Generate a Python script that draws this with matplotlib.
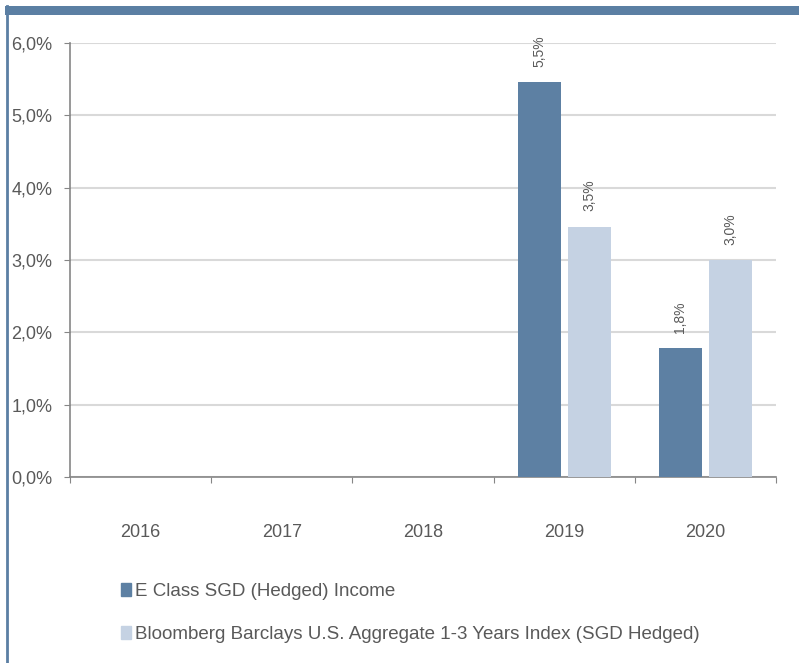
import matplotlib
matplotlib.use("Agg")
import matplotlib.pyplot as plt
import numpy as np
from matplotlib.patches import Rectangle, Patch
from matplotlib.lines import Line2D

years = ["2016", "2017", "2018", "2019", "2020"]
fund = [np.nan, np.nan, np.nan, 5.46, 1.78]
index = [np.nan, np.nan, np.nan, 3.46, 3.0]
fund_labels = ["", "", "", "5,5%", "1,8%"]
index_labels = ["", "", "", "3,5%", "3,0%"]
yticks = [0, 1, 2, 3, 4, 5, 6]
ytick_labels = ["0,0%", "1,0%", "2,0%", "3,0%", "4,0%", "5,0%", "6,0%"]
series_names = ["E Class SGD (Hedged) Income",
                "Bloomberg Barclays U.S. Aggregate 1-3 Years Index (SGD Hedged)"]

dark = "#5d80a3"
light = "#c5d2e3"
gray = "#595959"
spine = "#868686"

plt.rcParams['font.family'] = ['Liberation Sans', 'DejaVu Sans']
fig = plt.figure(figsize=(7.99, 6.63), dpi=100)

# frame decoration
fig.add_artist(Rectangle((5/799, 1-15/663), 794/799, 9/663, transform=fig.transFigure,
                         color="#5b7fa3", lw=0))
fig.add_artist(Line2D([7/799, 7/799], [0, 1-6/663], transform=fig.transFigure,
                      color="#5b7fa3", lw=2))

ax = fig.add_axes([70/799, 1-477/663, 706/799, 434/663])
x = np.arange(len(years))
w = 0.305
off = 0.177
ax.bar(x - off, fund, w, color=dark, zorder=3)
ax.bar(x + off, index, w, color=light, zorder=3)

for i in range(len(years)):
    if not np.isnan(fund[i]):
        ax.annotate(fund_labels[i], (x[i] - off, fund[i]), xytext=(0, 11),
                    textcoords="offset points", rotation=90, ha="center", va="bottom",
                    fontsize=10, color=gray)
    if not np.isnan(index[i]):
        ax.annotate(index_labels[i], (x[i] + off, index[i]), xytext=(0, 11),
                    textcoords="offset points", rotation=90, ha="center", va="bottom",
                    fontsize=10, color=gray)

ax.set_xlim(-0.5, len(years) - 0.5)
ax.set_ylim(0, 6)
ax.set_yticks(yticks)
ax.set_yticklabels(ytick_labels, fontsize=13, color=gray)
ax.set_xticks(np.arange(len(years) + 1) - 0.5)
ax.set_xticklabels([])
ax.set_xticks(x, minor=True)
ax.set_xticklabels(years, minor=True, fontsize=13, color=gray)
ax.tick_params(axis="x", which="minor", length=0, pad=34)
ax.tick_params(axis="x", which="major", length=4.3, color=spine, direction="out")
ax.tick_params(axis="y", length=4.3, color=spine, direction="out", pad=8.5)
ax.grid(axis="y", color="#d9d9d9", lw=1.5, zorder=0)
for s in ["top", "right"]:
    ax.spines[s].set_visible(False)
for s in ["left", "bottom"]:
    ax.spines[s].set_color(spine)
    ax.spines[s].set_linewidth(1.2)

handles = [Patch(color=dark, label=series_names[0]),
           Patch(color=light, label=series_names[1])]
fig.legend(handles=handles, loc="upper left", bbox_to_anchor=(121/799, 1-583/663),
           frameon=False, fontsize=13.5, labelcolor=gray, handlelength=0.55,
           handleheight=0.65, handletextpad=0.2, labelspacing=1.38,
           borderpad=0, borderaxespad=0)

fig.savefig("out.png", dpi=100)
